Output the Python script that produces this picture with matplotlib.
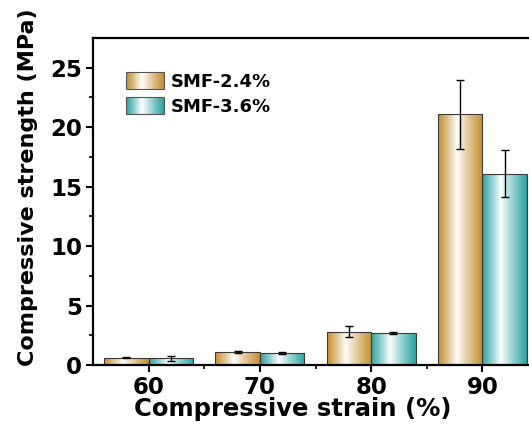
import numpy as np
import matplotlib
matplotlib.use("Agg")
import matplotlib.pyplot as plt
from matplotlib.patches import Rectangle
from matplotlib.legend_handler import HandlerBase
from matplotlib.colors import to_rgb

# data
strain = [60, 70, 80, 90]
smf24 = [0.6, 1.1, 2.8, 21.1]
smf24_err = [0.05, 0.1, 0.45, 2.9]
smf36 = [0.55, 1.0, 2.7, 16.1]
smf36_err = [0.2, 0.1, 0.08, 2.0]
labels = ["SMF-2.4%", "SMF-3.6%"]

gold = "#c49030"
teal = "#2ba5a3"

plt.rcParams["font.family"] = ["DejaVu Sans"]
plt.rcParams["font.weight"] = "bold"


def grad_colors(color, n=64):
    # dark at the edges, white a bit left of the middle
    t = np.linspace(0, 1, n)
    k = np.where(t < 0.42, (0.42 - t) / 0.42, (t - 0.42) / 0.58)
    k = k ** 0.9
    c = np.array(to_rgb(color))
    return (1 - k)[:, None] * np.ones(3) + k[:, None] * c


def fill_gradient(ax, patch, color):
    x, y = patch.get_xy()
    w, h = patch.get_width(), patch.get_height()
    img = grad_colors(color)[np.newaxis, :, :]
    im = ax.imshow(img, extent=[x, x + w, y, y + h], aspect="auto",
                   interpolation="bilinear", zorder=1)
    im.set_clip_path(patch)


class GradHandler(HandlerBase):
    def __init__(self, color):
        super().__init__()
        self.color = color

    def create_artists(self, legend, orig_handle, xdescent, ydescent,
                       width, height, fontsize, trans):
        cols = grad_colors(self.color, 40)
        n = len(cols)
        arts = []
        for i, c in enumerate(cols):
            arts.append(Rectangle((-xdescent + i * width / n, -ydescent),
                                  width / n * 1.05, height, facecolor=c,
                                  edgecolor="none", transform=trans))
        arts.append(Rectangle((-xdescent, -ydescent), width, height,
                              facecolor="none", edgecolor="#555555",
                              linewidth=0.8, transform=trans))
        return arts


fig = plt.figure(figsize=(5.29, 4.37), dpi=100)
ax = fig.add_axes([93 / 529, 1 - 365 / 437, 445 / 529, 327 / 437])

x = np.array(strain)
b1 = ax.bar(x - 2, smf24, width=4, facecolor="none", edgecolor="#3a3a3a",
            linewidth=0.8, zorder=2)
b2 = ax.bar(x + 2, smf36, width=4, facecolor="none", edgecolor="#3a3a3a",
            linewidth=0.8, zorder=2)
for p in b1:
    fill_gradient(ax, p, gold)
for p in b2:
    fill_gradient(ax, p, teal)

ax.errorbar(x - 2, smf24, yerr=smf24_err, fmt="none", ecolor="black",
            elinewidth=1.0, capsize=3, capthick=1.0, zorder=3)
ax.errorbar(x + 2, smf36, yerr=smf36_err, fmt="none", ecolor="black",
            elinewidth=1.0, capsize=3, capthick=1.0, zorder=3)

ax.set_xlim(55, 95)
ax.set_ylim(0, 27.5)
ax.set_xticks(strain)
ax.set_xticks([65, 75, 85], minor=True)
ax.set_yticks([0, 5, 10, 15, 20, 25])
ax.set_yticks([2.5, 7.5, 12.5, 17.5, 22.5], minor=True)
ax.tick_params(which="major", direction="out", length=5, width=1.5,
               labelsize=16.5, pad=3)
ax.tick_params(which="minor", direction="out", length=3, width=1.2)
for s in ax.spines.values():
    s.set_linewidth(1.6)

ax.set_xlabel("Compressive strain (%)", fontsize=17.5, fontweight="bold")
ax.set_ylabel("Compressive strength (MPa)", fontsize=16, fontweight="bold")
# label centres (pixels -> axes fraction)
ax.xaxis.set_label_coords((293 - 93) / 445, -(409 - 365) / 327)
ax.yaxis.set_label_coords(-(93 - 28) / 445, (365 - 187) / 327)
ax.xaxis.label.set_va("center")
ax.yaxis.label.set_va("center")

ax.legend([b1, b2], labels,
          handler_map={b1: GradHandler(gold), b2: GradHandler(teal)},
          loc="upper left", bbox_to_anchor=(126 / 529, 1 - 72 / 437),
          bbox_transform=fig.transFigure, frameon=False, fontsize=13,
          handlelength=2.1, handleheight=1.1, handletextpad=0.4,
          labelspacing=0.35, borderpad=0, borderaxespad=0)

fig.savefig("out.png", dpi=100)
